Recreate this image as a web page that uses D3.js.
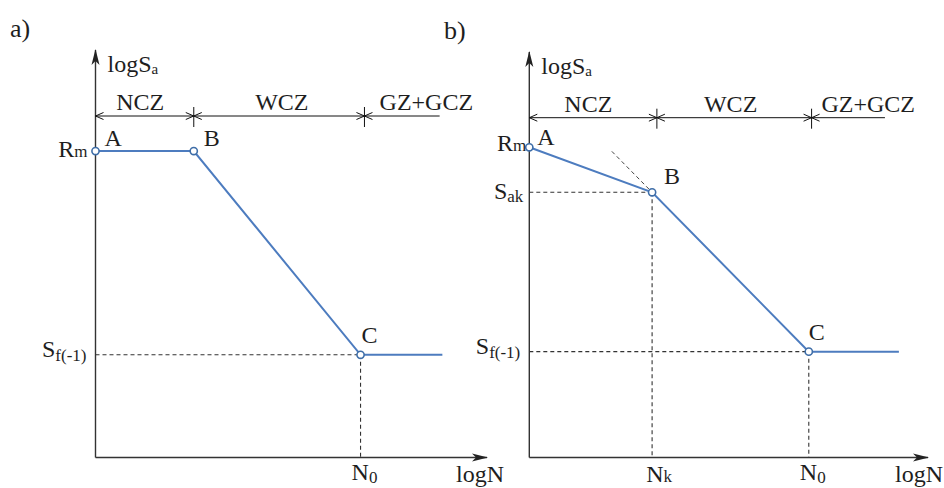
<!DOCTYPE html>
<html>
<head>
<meta charset="utf-8">
<script src="https://cdn.jsdelivr.net/npm/d3@7/dist/d3.min.js"></script>
<style>
  html, body { margin: 0; padding: 0; background: #fff; }
  svg { display: block; }
  text { font-family: "Liberation Serif", "DejaVu Serif", serif; fill: #1e1e1e; }
</style>
</head>
<body>
<svg id="chart" width="944" height="488"></svg>
<script>
// S-N curve sketches: (a) flat NCZ branch, (b) sloped NCZ branch with knee at Nk
const panelTags = ["a)", "b)"];
const zoneNames = ["NCZ", "WCZ", "GZ+GCZ"];

// curve vertices in (logN, logSa) units: A, B, C, end of the endurance branch
const curveA = [
  { n: 0.00, s: 7.52 },
  { n: 2.51, s: 7.52 },
  { n: 6.77, s: 2.52 },
  { n: 8.86, s: 2.52 }
];
const curveB = [
  { n: 0.00, s: 7.65 },
  { n: 3.08, s: 6.54 },
  { n: 7.01, s: 2.61 },
  { n: 9.27, s: 2.61 }
];
const pointNames = ["A", "B", "C"];

// zone boundaries along logN, and the level of the zone dimension line
const zoneEdgesA = [0, 2.51, 6.87, 8.79];
const zoneEdgesB = [0, 3.20, 7.08, 8.92];
const zoneLevel = 8.38;

// start of the dotted extension of the WCZ line beyond B (panel b)
const tangentStartB = 2.07;

const svg = d3.select("#chart");
const blue = "#4d7cbf";
const ink = "#333";
const fs = 24;

const defs = svg.append("defs");
defs.append("marker")
  .attr("id", "axisArrow")
  .attr("viewBox", "0 -5 16 10")
  .attr("refX", 15).attr("refY", 0)
  .attr("markerUnits", "userSpaceOnUse")
  .attr("markerWidth", 16).attr("markerHeight", 10)
  .attr("orient", "auto")
  .append("path")
  .attr("d", "M0,-4 L16,0 L0,4 L4,0 Z")
  .attr("fill", "#222");

function chevron(g, x, y, dir) {
  // open arrowhead whose tip sits at (x, y); dir = -1 points left, +1 points right
  g.append("path")
    .attr("d", `M${x - dir * 8},${y - 3.5} L${x},${y} L${x - dir * 8},${y + 3.5}`)
    .attr("fill", "none").attr("stroke", "#111").attr("stroke-width", 1);
}

function subText(g, x, y, main, sub, anchor, subSize, subDy) {
  const t = g.append("text")
    .attr("x", x).attr("y", y)
    .attr("text-anchor", anchor || "start")
    .style("font-size", fs + "px");
  t.append("tspan").text(main);
  if (sub) {
    t.append("tspan").attr("dy", subDy).style("font-size", subSize + "px").text(sub);
  }
  return t;
}

function drawPanel(cfg) {
  const g = svg.append("g");
  const x = d3.scaleLinear().domain([0, 10]).range(cfg.xRange);
  const y = d3.scaleLinear().domain([0, 10]).range(cfg.yRange);
  const pts = cfg.curve;

  // panel tag
  g.append("text").attr("x", cfg.tagPos[0]).attr("y", cfg.tagPos[1])
    .style("font-size", "26px").text(cfg.tag);

  // axes with arrowheads
  g.append("line")
    .attr("x1", x(0)).attr("y1", y(0)).attr("x2", x(0)).attr("y2", y(10))
    .attr("stroke", ink).attr("stroke-width", 1.4)
    .attr("marker-end", "url(#axisArrow)");
  g.append("line")
    .attr("x1", x(0)).attr("y1", y(0)).attr("x2", x(10)).attr("y2", y(0))
    .attr("stroke", ink).attr("stroke-width", 1.4)
    .attr("marker-end", "url(#axisArrow)");

  // dashed reference lines
  const dash = (x1, y1, x2, y2) => g.append("line")
    .attr("x1", x1).attr("y1", y1).attr("x2", x2).attr("y2", y2)
    .attr("stroke", "#333").attr("stroke-width", 1.1)
    .attr("stroke-dasharray", "4,3");
  const C = pts[2], B = pts[1];
  dash(x(0), y(C.s), x(C.n), y(C.s));
  dash(x(C.n), y(C.s), x(C.n), y(0));
  if (cfg.knee) {
    dash(x(0), y(B.s), x(B.n), y(B.s));
    dash(x(B.n), y(B.s), x(B.n), y(0));
    // extension of the B–C line towards low cycle counts
    const slope = (C.s - B.s) / (C.n - B.n);
    const t0 = cfg.tangentStart;
    dash(x(t0), y(B.s + slope * (t0 - B.n)), x(B.n), y(B.s))
      .attr("stroke", "#444").attr("stroke-width", 1);
  }

  // zone dimension line
  const edges = cfg.zoneEdges;
  const zy = y(zoneLevel);
  g.append("line")
    .attr("x1", x(edges[0])).attr("y1", zy).attr("x2", x(edges[3])).attr("y2", zy)
    .attr("stroke", "#111").attr("stroke-width", 1);
  chevron(g, x(edges[0]), zy, -1);
  [edges[1], edges[2]].forEach(e => {
    g.append("line")
      .attr("x1", x(e)).attr("y1", zy - 9).attr("x2", x(e)).attr("y2", zy + 11)
      .attr("stroke", "#111").attr("stroke-width", 1);
    chevron(g, x(e), zy, 1);
    chevron(g, x(e), zy, -1);
  });
  zoneNames.forEach((name, i) => {
    g.append("text")
      .attr("x", x(cfg.zoneLabelAt[i])).attr("y", zy - 6)
      .attr("text-anchor", "middle").style("font-size", fs + "px")
      .text(name);
  });

  // S-N curve
  const line = d3.line().x(d => x(d.n)).y(d => y(d.s));
  g.append("path").datum(pts).attr("d", line)
    .attr("fill", "none").attr("stroke", blue).attr("stroke-width", 2);
  g.selectAll("circle.vertex").data(pts.slice(0, 3)).enter().append("circle")
    .attr("class", "vertex")
    .attr("cx", d => x(d.n)).attr("cy", d => y(d.s)).attr("r", 3.6)
    .attr("fill", "#fff").attr("stroke", "#3f6ea8").attr("stroke-width", 1.6);

  // point letters
  pts.slice(0, 3).forEach((p, i) => {
    const o = cfg.pointOffsets[i];
    g.append("text").attr("x", x(p.n) + o[0]).attr("y", y(p.s) + o[1])
      .style("font-size", fs + "px").text(pointNames[i]);
  });

  // axis titles
  subText(g, x(0) + cfg.yTitleDx, y(10) + 22, "logS", "a", "start", 15, 2);
  g.append("text").attr("x", x(10) + cfg.xTitleDx).attr("y", y(0) + 24)
    .attr("text-anchor", "middle").style("font-size", fs + "px").text("logN");

  // value labels on the axes
  subText(g, x(0) - cfg.rmDx, y(pts[0].s) + cfg.rmDy, "R", "m", "end", 17, 0);
  subText(g, x(0) - 9, y(C.s) + 2, "S", "f(-1)", "end", 17, 4);
  subText(g, x(C.n) + 4, y(0) + 22, "N", "0", "middle", 17, 3);
  if (cfg.knee) {
    subText(g, x(0) - 6, y(B.s) + 7, "S", "ak", "end", 17, 3);
    subText(g, x(B.n) + 7, y(0) + 24, "N", "k", "middle", 17, 0);
  }
}

drawPanel({
  tag: panelTags[0], tagPos: [10, 37],
  xRange: [95.5, 487], yRange: [457.5, 50],
  curve: curveA, zoneEdges: zoneEdgesA,
  zoneLabelAt: [1.14, 4.76, 8.45],
  pointOffsets: [[9, -5], [10, -5], [1, -12]],
  yTitleDx: 12, xTitleDx: -7,
  rmDx: 8, rmDy: 6,
  knee: false
});

drawPanel({
  tag: panelTags[1], tagPos: [444, 39],
  xRange: [529.3, 928], yRange: [457.5, 52],
  curve: curveB, zoneEdges: zoneEdgesB,
  zoneLabelAt: [1.48, 5.05, 8.50],
  pointOffsets: [[8, -2], [12, -8], [0, -12]],
  yTitleDx: 12, xTitleDx: -9,
  rmDx: 3, rmDy: 4,
  knee: true, tangentStart: tangentStartB
});
</script>
</body>
</html>
